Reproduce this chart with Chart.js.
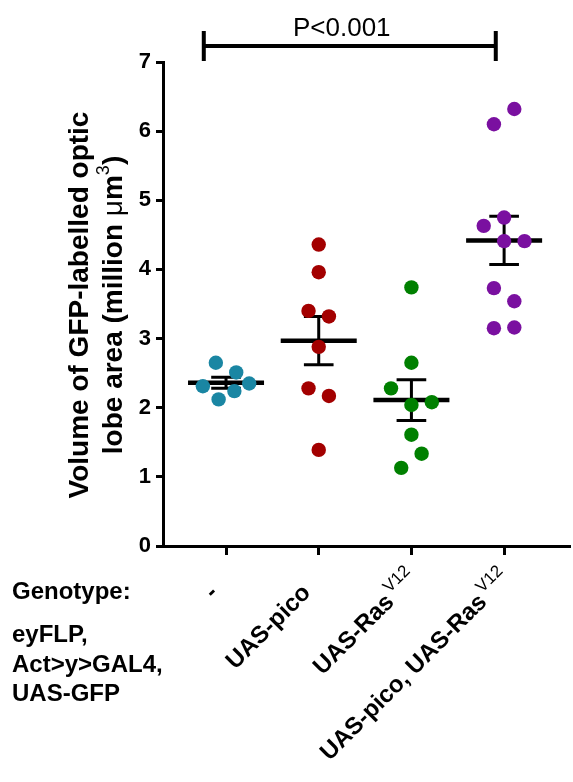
<!DOCTYPE html>
<html>
<head>
<meta charset="utf-8">
<script src="https://cdn.jsdelivr.net/npm/chart.js@4.4.1/dist/chart.umd.min.js"></script>
<style>
  html, body { margin: 0; padding: 0; background: #fff; }
  canvas { display: block; }
</style>
</head>
<body>
<canvas id="optic-lobe" width="573" height="782"></canvas>
<script>
const FONT = '"Liberation Sans", Arial, sans-serif';

// genotypes, one per x position
const CATEGORIES = [1, 2, 3, 4];
const CAT_LABELS = ['-', 'UAS-pico', 'UAS-Ras', 'UAS-pico, UAS-Ras'];
const CAT_SUPERS = ['', '', 'V12', 'V12'];
const Y_TICKS = [0, 1, 2, 3, 4, 5, 6, 7];

// individual lobes (x = category position with jitter, y = million um3)
const ctrlX = [0.89, 1.11, 0.75, 1.25, 1.09, 0.92];
const ctrlY = [2.65, 2.51, 2.31, 2.35, 2.24, 2.12];
const picoX = [2, 2, 1.89, 2.11, 2, 1.89, 2.11, 2];
const picoY = [4.36, 3.96, 3.40, 3.32, 2.88, 2.28, 2.17, 1.39];
const rasX = [3, 3, 2.78, 3, 3.22, 3, 3.11, 2.89];
const rasY = [3.74, 2.65, 2.28, 2.04, 2.08, 1.61, 1.335, 1.13];
const bothX = [4.11, 3.89, 4, 3.78, 4, 4.22, 3.89, 4.11, 3.89, 4.11];
const bothY = [6.32, 6.10, 4.75, 4.63, 4.41, 4.41, 3.73, 3.54, 3.15, 3.16];

// mean +/- SEM per genotype
const MEANS = [2.36, 2.97, 2.11, 4.42];
const SEMS = [0.08, 0.35, 0.295, 0.35];

// significance bracket between control and pico + Ras
const SIG_FROM = 0.76;
const SIG_TO = 3.91;
const SIG_Y = 7.23;
const SIG_TEXT = 'P<0.001';

const GENOTYPE_LINES = ['eyFLP,', 'Act>y>GAL4,', 'UAS-GFP'];

const COLORS = ['#1a86a3', '#a30000', '#008000', '#7a10a0'];
const MEAN_HALF = 0.41;
const CAP_HALF = 0.16;

function zipPoints(xs, ys) {
    return xs.map((x, i) => ({ x, y: ys[i] }));
}

function meanSegments() {
    const out = [];
    CATEGORIES.forEach((c, i) => {
        out.push({ x: c - MEAN_HALF, y: MEANS[i] }, { x: c + MEAN_HALF, y: MEANS[i] }, { x: c, y: null });
    });
    return out;
}

function semSegments() {
    const out = [];
    CATEGORIES.forEach((c, i) => {
        const lo = MEANS[i] - SEMS[i];
        const hi = MEANS[i] + SEMS[i];
        out.push({ x: c, y: lo }, { x: c, y: hi }, { x: c, y: null });
        out.push({ x: c - CAP_HALF, y: hi }, { x: c + CAP_HALF, y: hi }, { x: c, y: null });
        out.push({ x: c - CAP_HALF, y: lo }, { x: c + CAP_HALF, y: lo }, { x: c, y: null });
    });
    return out;
}

function pointSet(xs, ys, color) {
    return {
        type: 'scatter',
        data: zipPoints(xs, ys),
        backgroundColor: color,
        borderWidth: 0,
        pointRadius: 7.2,
        order: 0,
    };
}

function lineSet(data, width) {
    return {
        type: 'line',
        data,
        borderColor: '#000',
        borderWidth: width,
        borderCapStyle: 'butt',
        pointRadius: 0,
        spanGaps: false,
        fill: false,
        order: 1,
    };
}

// rotated genotype label with optional superscript, main text end hung off the tick
function drawCatLabel(ctx, tickX, axisY, main, sup) {
    const back = sup ? 13 : 0;
    const ex = tickX - 7 - back * Math.SQRT1_2;
    const ey = axisY + 48 + back * Math.SQRT1_2;
    ctx.save();
    ctx.translate(ex, ey);
    ctx.rotate(-Math.PI / 4);
    ctx.fillStyle = '#000';
    ctx.textBaseline = 'alphabetic';
    ctx.font = 'bold 24px ' + FONT;
    ctx.textAlign = 'right';
    ctx.fillText(main, 0, 0);
    if (sup) {
        ctx.font = '17px ' + FONT;
        ctx.textAlign = 'left';
        ctx.fillText(sup, 3, -11);
    }
    ctx.restore();
}

function drawYTitle(ctx, cy) {
    ctx.save();
    ctx.fillStyle = '#000';
    ctx.textBaseline = 'alphabetic';
    // first line
    ctx.save();
    ctx.translate(88, cy);
    ctx.rotate(-Math.PI / 2);
    ctx.font = 'bold 28px ' + FONT;
    ctx.textAlign = 'center';
    ctx.fillText('Volume of GFP-labelled optic', 0, 0);
    ctx.restore();
    // second line, built from pieces for the micro sign and superscript
    const parts = [
        { t: 'lobe area (million ', f: 'bold 28px ' + FONT, dy: 0 },
        { t: '\u03bc', f: '28px ' + FONT, dy: 0 },
        { t: 'm', f: 'bold 28px ' + FONT, dy: 0 },
        { t: '3', f: '18px ' + FONT, dy: -13 },
        { t: ')', f: 'bold 28px ' + FONT, dy: 0 },
    ];
    let total = 0;
    parts.forEach((p) => { ctx.font = p.f; p.w = ctx.measureText(p.t).width; total += p.w; });
    ctx.translate(122, cy);
    ctx.rotate(-Math.PI / 2);
    ctx.textAlign = 'left';
    let x = -total / 2;
    parts.forEach((p) => {
        ctx.font = p.f;
        ctx.fillText(p.t, x, p.dy);
        x += p.w;
    });
    ctx.restore();
}

const annotations = {
    id: 'annotations',
    afterDraw(chart) {
        const { ctx, scales } = chart;
        const xs = scales.x;
        const ys = scales.y;
        const axisY = chart.chartArea.bottom;

        CATEGORIES.forEach((c, i) => {
            drawCatLabel(ctx, xs.getPixelForValue(c), axisY, CAT_LABELS[i], CAT_SUPERS[i]);
        });

        drawYTitle(ctx, 305);

        // significance bracket
        const x0 = xs.getPixelForValue(SIG_FROM);
        const x1 = xs.getPixelForValue(SIG_TO);
        const by = ys.getPixelForValue(SIG_Y);
        ctx.save();
        ctx.strokeStyle = '#000';
        ctx.lineCap = 'butt';
        ctx.lineWidth = 4;
        ctx.beginPath();
        ctx.moveTo(x0, by);
        ctx.lineTo(x1, by);
        ctx.moveTo(x0, by - 15);
        ctx.lineTo(x0, by + 15);
        ctx.moveTo(x1, by - 15);
        ctx.lineTo(x1, by + 15);
        ctx.stroke();
        ctx.fillStyle = '#000';
        ctx.font = '26px ' + FONT;
        ctx.textAlign = 'center';
        ctx.textBaseline = 'alphabetic';
        ctx.fillText(SIG_TEXT, (x0 + x1) / 2 - 8, by - 10);

        // genotype legend on the left
        ctx.font = 'bold 24px ' + FONT;
        ctx.textAlign = 'left';
        ctx.fillText('Genotype:', 12, 599);
        GENOTYPE_LINES.forEach((line, i) => {
            ctx.fillText(line, 12, 642 + i * 29.5);
        });
        ctx.restore();
    },
};

const axisLine = { display: true, color: '#000', width: 3 };
const tickMarks = {
    display: true,
    drawOnChartArea: false,
    drawTicks: true,
    color: '#000',
    lineWidth: 3,
};

new Chart(document.getElementById('optic-lobe'), {
    type: 'scatter',
    data: {
        datasets: [
            pointSet(ctrlX, ctrlY, COLORS[0]),
            pointSet(picoX, picoY, COLORS[1]),
            pointSet(rasX, rasY, COLORS[2]),
            pointSet(bothX, bothY, COLORS[3]),
            lineSet(meanSegments(), 4.5),
            lineSet(semSegments(), 3),
        ],
    },
    options: {
        responsive: false,
        animation: false,
        devicePixelRatio: 1,
        layout: { autoPadding: false, padding: { top: 62, right: 4, left: 0, bottom: 0 } },
        plugins: {
            legend: { display: false },
            tooltip: { enabled: false },
        },
        scales: {
            x: {
                type: 'linear',
                min: 0.32,
                max: 4.7,
                border: axisLine,
                grid: { ...tickMarks, tickLength: 9 },
                ticks: { display: false },
                afterBuildTicks: (s) => { s.ticks = CATEGORIES.map((v) => ({ value: v })); },
                afterFit: (s) => { s.height = 236; },
            },
            y: {
                min: 0,
                max: 7,
                border: axisLine,
                grid: { ...tickMarks, tickLength: 7 },
                ticks: {
                    color: '#000',
                    font: { family: FONT, size: 22, weight: 'bold' },
                    padding: 5,
                },
                afterBuildTicks: (s) => { s.ticks = Y_TICKS.map((v) => ({ value: v })); },
                afterFit: (s) => { s.width = 163; },
            },
        },
    },
    plugins: [annotations],
});
</script>
</body>
</html>
